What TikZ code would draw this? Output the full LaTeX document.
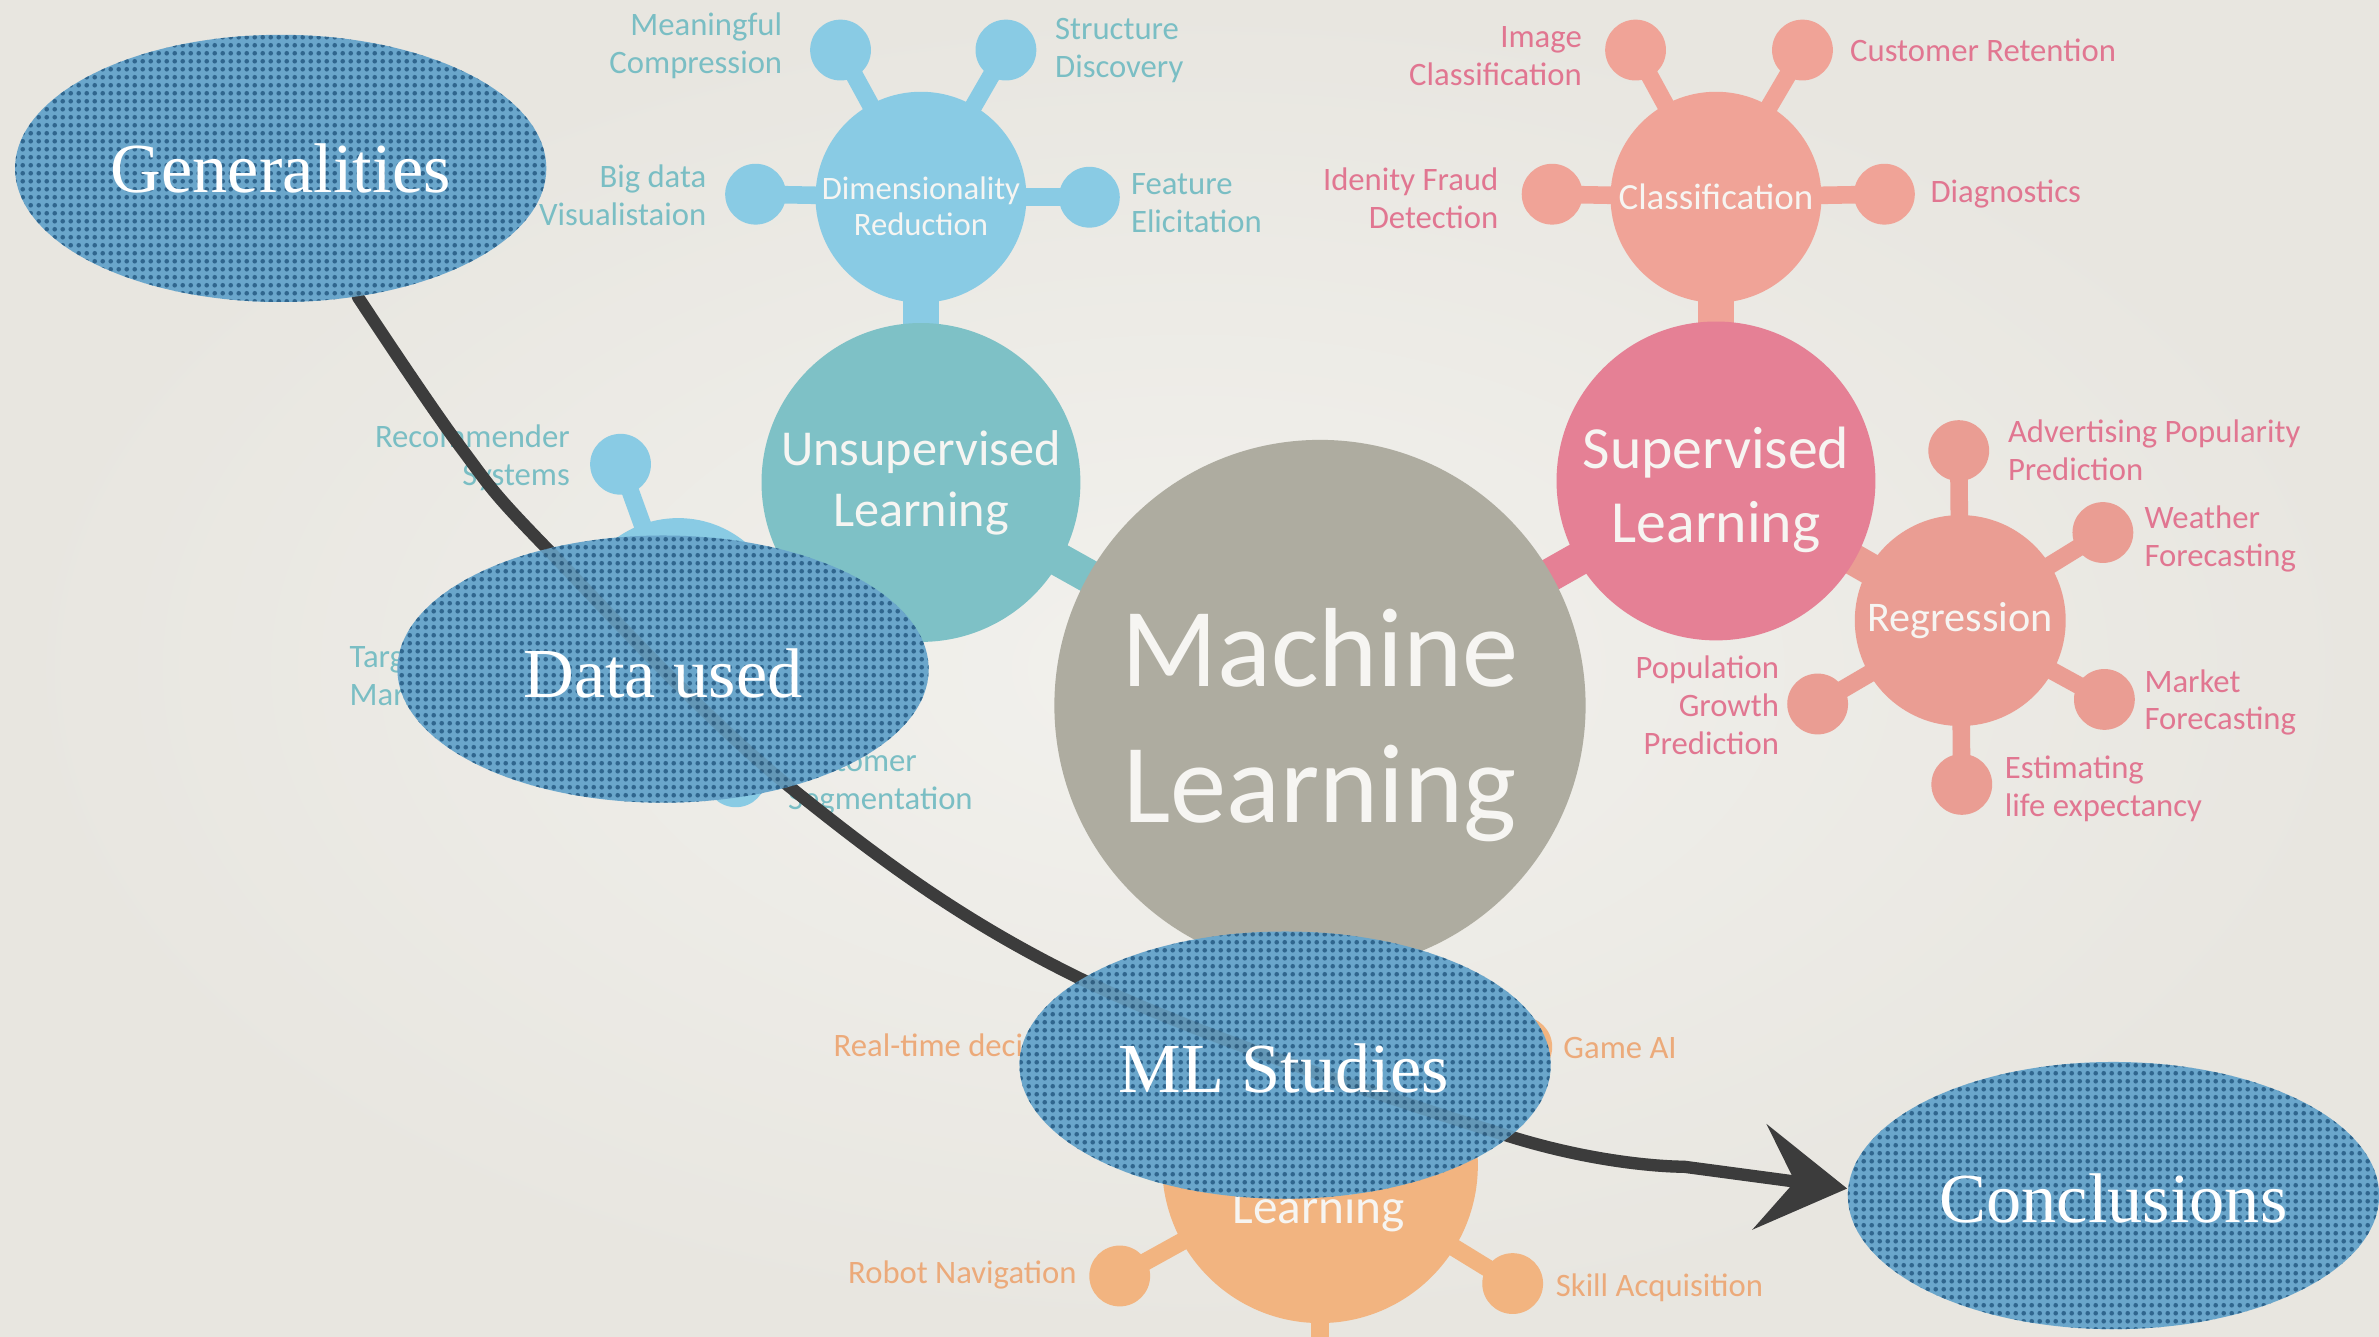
\documentclass[tikz,border=0pt]{standalone}
\usepackage{fontspec}
\usetikzlibrary{shapes.geometric,arrows.meta,patterns.meta}
\newfontfamily\mmfont{Carlito}
\newfontfamily\elfont{Liberation Serif}
\definecolor{paperlight}{RGB}{242,241,237}
\definecolor{paperdark}{RGB}{232,230,224}
\definecolor{mlgray}{RGB}{174,172,160}
\definecolor{unsupteal}{RGB}{126,193,198}
\definecolor{dimblue}{RGB}{137,203,228}
\definecolor{suppink}{RGB}{229,128,149}
\definecolor{clssalmon}{RGB}{240,163,151}
\definecolor{regsalmon}{RGB}{234,157,147}
\definecolor{rlorange}{RGB}{242,180,128}
\definecolor{labteal}{RGB}{122,190,196}
\definecolor{labpink}{RGB}{225,118,145}
\definecolor{laborange}{RGB}{236,170,122}
\definecolor{arrowgray}{RGB}{60,60,60}
\definecolor{ellblue}{RGB}{106,166,203}
\definecolor{dotblue}{RGB}{48,102,142}
\definecolor{softwhite}{RGB}{246,245,242}
\pgfdeclarelayer{paper}
\pgfdeclarelayer{bars}
\pgfdeclarelayer{arrowl}
\pgfdeclarelayer{top}
\pgfsetlayers{paper,bars,main,arrowl,top}
\tikzdeclarepattern{
  name=halftone,
  type=uncolored,
  bounding box={(-1.1pt,-1.1pt) and (1.1pt,1.1pt)},
  tile size={(2.2pt,2.2pt)},
  code={\fill (0pt,0pt) circle (0.68pt);}
}
\tikzset{
  bub/.style={circle, inner sep=0pt, minimum size=17.3pt},
  midc/.style={circle, inner sep=0pt, minimum size=60pt, text=softwhite, align=center},
  bigc/.style={circle, inner sep=0pt, minimum size=90.7pt, text=softwhite, align=center},
  ctxt/.style={inner sep=0pt, text=softwhite, align=center},
  lab/.style={inner sep=0pt, font=\mmfont\fontsize{9.3}{10.8}\selectfont},
  stalk/.style={line width=5pt},
  wbar/.style={line width=10pt},
  blob/.style={ellipse, minimum width=151.1pt, minimum height=76pt, inner sep=0pt,
    fill=ellblue, postaction={pattern=halftone, pattern color=dotblue}},
  eltxt/.style={inner sep=0pt, font=\elfont\fontsize{20}{24}\selectfont, text=white},
  chalk/.style={draw=arrowgray, line width=3.5pt, line cap=round}
}
\begin{document}
\begin{tikzpicture}[x=0.015172cm, y=-0.015172cm]
\useasboundingbox (0,0) rectangle (1568,881);
\begin{pgfonlayer}{paper}
\shade[inner color=paperlight, outer color=paperdark] (0,0) rectangle (1568,881);
\end{pgfonlayer}

% ---- main circles
\node[bigc, fill=mlgray, minimum size=151.1pt] (ml) at (870,465) {};
\node[ctxt, font=\mmfont\fontsize{32}{38.5}\selectfont] (mltxt) at (870,478) {Machine\\Learning};
\node[bigc, fill=unsupteal, font=\mmfont\fontsize{14.3}{17.3}\selectfont] (unsup) at (607,318) {Unsupervised\\Learning};
\node[bigc, fill=suppink] (sup) at (1131,317) {};
\node[ctxt, font=\mmfont\fontsize{17}{21}\selectfont] (suptxt) at (1131,323) {Supervised\\Learning};
\node[midc, fill=dimblue] (dim) at (607,130) {};
\node[ctxt, font=\mmfont\fontsize{9.3}{10.4}\selectfont] (dimtxt) at (607,136) {Dimensionality\\Reduction};
\node[midc, fill=clssalmon, font=\mmfont\fontsize{10.5}{12}\selectfont] (cls) at (1131,130) {Classification};
\node[midc, fill=regsalmon, font=\mmfont\fontsize{12}{14}\selectfont] (reg) at (1292,409) {Regression};
\node[midc, fill=dimblue] (clu) at (447,411) {};
\node[bigc, fill=rlorange, minimum size=89.8pt] (rl) at (870,768) {};
\node[ctxt, font=\mmfont\fontsize{14}{17}\selectfont] (rltxt) at (869,798) {Learning};
\coordinate (rlbot) at (870,920);

% ---- leaf bubbles
\node[bub, fill=dimblue] (bmc) at (554,33) {};
\node[bub, fill=dimblue] (bsd) at (663,33) {};
\node[bub, fill=dimblue] (bbd) at (498,128) {};
\node[bub, fill=dimblue] (bfe) at (718,130) {};
\node[bub, fill=clssalmon] (bic) at (1078,33) {};
\node[bub, fill=clssalmon] (bcr) at (1188,33) {};
\node[bub, fill=clssalmon] (bif) at (1023,128) {};
\node[bub, fill=clssalmon] (bdg) at (1242,128) {};
\node[bub, fill=regsalmon] (bap) at (1291,297) {};
\node[bub, fill=regsalmon] (bwf) at (1386,351) {};
\node[bub, fill=regsalmon] (bmf) at (1387,461) {};
\node[bub, fill=regsalmon] (bel) at (1293,517) {};
\node[bub, fill=regsalmon] (bpg) at (1198,464) {};
\node[bub, fill=dimblue] (brs) at (409,306) {};
\node[bub, fill=dimblue] (btm) at (345,440) {};
\node[bub, fill=dimblue] (bcs) at (485,512) {};
\node[bub, fill=rlorange] (brt) at (738,690) {};
\node[bub, fill=rlorange] (bga) at (1003,690) {};
\node[bub, fill=rlorange] (brn) at (738,841) {};
\node[bub, fill=rlorange] (bsa) at (997,846) {};

% ---- bars
\begin{pgfonlayer}{bars}
\draw[wbar, dimblue] (dim.center) -- (unsup.center);
\draw[wbar, clssalmon] (cls.center) -- (sup.center);
\draw[wbar, unsupteal, line width=9.5pt] (unsup.center) -- (ml.center);
\draw[wbar, suppink, line width=9.5pt] (sup.center) -- (ml.center);
\draw[wbar, regsalmon, line width=9pt] (reg.center) -- (sup.center);
\draw[wbar, dimblue, line width=9pt] (clu.center) -- (unsup.center);
\draw[wbar, rlorange] (rl.center) -- (ml.center);
\draw[stalk, rlorange] (rl.center) -- (rlbot);
\foreach \b in {bmc,bsd,bbd,bfe} \draw[stalk, dimblue] (dim.center) -- (\b.center);
\foreach \b in {bic,bcr,bif,bdg} \draw[stalk, clssalmon] (cls.center) -- (\b.center);
\foreach \b in {bap,bwf,bmf,bel,bpg} \draw[stalk, regsalmon] (reg.center) -- (\b.center);
\foreach \b in {brs,btm,bcs} \draw[stalk, dimblue] (clu.center) -- (\b.center);
\foreach \b in {brt,bga,brn,bsa} \draw[stalk, rlorange] (rl.center) -- (\b.center);
\end{pgfonlayer}

% ---- labels
\node[lab, text=labteal, anchor=east, align=right] (lmc) at (516,30) {Meaningful\\Compression};
\node[lab, text=labteal, anchor=west, align=left] (lsd) at (695,33) {Structure\\Discovery};
\node[lab, text=labteal, anchor=east, align=right] (lbd) at (466,129) {Big data\\Visualistaion};
\node[lab, text=labteal, anchor=west, align=left] (lfe) at (745,134) {Feature\\Elicitation};
\node[lab, text=labteal, anchor=east, align=right] (lrs) at (376,302) {Recommender\\Systems};
\node[lab, text=labteal, anchor=west, align=left] (ltm) at (230,447) {Targeted\\Marketing};
\node[lab, text=labteal, anchor=west, align=left] (lcs) at (519,516) {Customer\\Segmentation};
\node[lab, text=labpink, anchor=east, align=right] (lic) at (1043,37) {Image\\Classification};
\node[lab, text=labpink, anchor=west, align=left] (lcr) at (1219,33) {Customer Retention};
\node[lab, text=labpink, anchor=east, align=right] (lif) at (988,131) {Idenity Fraud\\Detection};
\node[lab, text=labpink, anchor=west, align=left] (ldg) at (1272,128) {Diagnostics};
\node[lab, text=labpink, anchor=west, align=left] (lap) at (1323,297) {Advertising Popularity\\Prediction};
\node[lab, text=labpink, anchor=west, align=left] (lwf) at (1413,355) {Weather\\Forecasting};
\node[lab, text=labpink, anchor=west, align=left] (lmf) at (1413,463) {Market\\Forecasting};
\node[lab, text=labpink, anchor=west, align=left] (lel) at (1321,520) {Estimating\\life expectancy};
\node[lab, text=labpink, anchor=east, align=right] (lpg) at (1173,465) {Population\\Growth\\Prediction};
\node[lab, text=laborange, anchor=west, align=left] (lrt) at (549,689) {Real-time decisions};
\node[lab, text=laborange, anchor=west, align=left] (lga) at (1030,691) {Game AI};
\node[lab, text=laborange, anchor=east, align=right] (lrn) at (710,840) {Robot Navigation};
\node[lab, text=laborange, anchor=west, align=left] (lsa) at (1025,849) {Skill Acquisition};

% ---- blue ellipses
\begin{pgfonlayer}{top}
\node[blob] (gen) at (185,111) {};
\node[blob] (data) at (437,441) {};
\node[blob] (mls) at (847,702) {};
\node[blob] (conc) at (1393,788) {};
\end{pgfonlayer}

% ---- chalk arrow
\begin{pgfonlayer}{arrowl}
\draw[chalk, -{Stealth[length=25pt,width=30pt,inset=10pt]}] plot[smooth, tension=0.6] coordinates {(gen.-59) (303,294) (359,360) (521,519) (714,646) (995,749) (1110,769)} -- ([yshift=2pt]conc.west);
\end{pgfonlayer}

\begin{pgfonlayer}{top}
\draw[chalk, draw opacity=0.14] plot[smooth, tension=0.6] coordinates {(gen.-59) (303,294) (359,360) (521,519) (714,646) (995,749) (1110,769)};
\node[eltxt] (gentx) at (gen.center) {Generalities};
\node[eltxt] (datatx) at (437,444) {Data used};
\node[eltxt] (mlstx) at (846,704) {ML Studies};
\node[eltxt] (conctx) at (1393,790) {Conclusions};
\end{pgfonlayer}
\end{tikzpicture}
\end{document}
